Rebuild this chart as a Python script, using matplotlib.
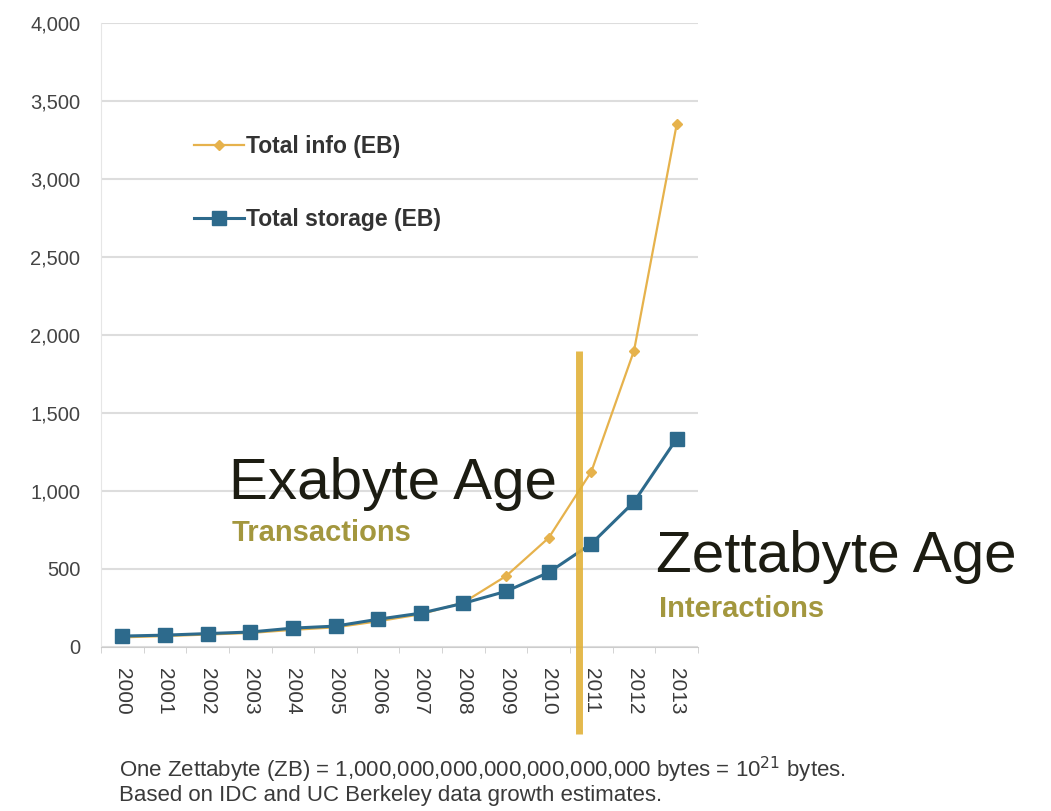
import matplotlib
matplotlib.use("Agg")
import matplotlib.pyplot as plt
from matplotlib.ticker import FuncFormatter, FixedLocator

years = ["2000", "2001", "2002", "2003", "2004", "2005", "2006",
         "2007", "2008", "2009", "2010", "2011", "2012", "2013"]
total_info = [62, 70, 80, 90, 110, 126, 165, 210, 285, 455, 700, 1125, 1900, 3350]
total_storage = [70, 76, 86, 96, 121, 134, 178, 217, 280, 357, 478, 662, 930, 1335]
yticks = [0, 500, 1000, 1500, 2000, 2500, 3000, 3500, 4000]

FW, FH = 1051, 811
plt.rcParams['font.family'] = ['Liberation Sans', 'DejaVu Sans']

fig = plt.figure(figsize=(FW / 100, FH / 100), dpi=100)
AX_L, AX_R, AX_T, AX_B = 101, 698, 23, 647
ax = fig.add_axes([AX_L / FW, (FH - AX_B) / FH, (AX_R - AX_L) / FW, (AX_B - AX_T) / FH])

x = list(range(len(years)))
gold = '#E6B24C'
blue = '#2D6A8C'
ax.plot(x, total_info, color=gold, lw=1.6, marker='D', ms=5, zorder=3,
        label='Total info (EB)')
ax.plot(x, total_storage, color=blue, lw=2.2, marker='s', ms=10, zorder=4,
        label='Total storage (EB)')

ax.set_xlim(-0.5, 13.5)
ax.set_ylim(0, 4000)
ax.set_yticks(yticks)
ax.yaxis.set_major_formatter(FuncFormatter(lambda v, p: f"{int(v):,}"))
ax.set_xticks(x)
ax.set_xticklabels(years, rotation=270)
ax.xaxis.set_minor_locator(FixedLocator([i - 0.5 for i in range(len(years) + 1)]))
ax.tick_params(axis='x', which='major', length=0, pad=15, labelsize=15,
               labelcolor='#3a3a3a')
ax.tick_params(axis='x', which='minor', length=4, color='#cccccc', direction='out')
ax.tick_params(axis='y', length=0, pad=15, labelsize=14.5, labelcolor='#444444')

for s in ['top', 'right']:
    ax.spines[s].set_visible(False)
ax.spines['bottom'].set_color('#cccccc')
ax.spines['left'].set_color('#e6e6e6')
ax.grid(axis='y', color='#dddddd', lw=1.5)
ax.set_axisbelow(True)

# vertical divider between the two ages
ax.plot([10.72, 10.72], [1900, -560], color='#E2B23A', lw=5, clip_on=False,
        zorder=6, solid_capstyle='butt', alpha=0.9)

leg = ax.legend(loc='center left',
                bbox_to_anchor=((194 - AX_L) / (AX_R - AX_L), (AX_B - 183) / (AX_B - AX_T)),
                frameon=False, fontsize=16.5, labelspacing=2.15, handlelength=2.2,
                handletextpad=0.05, borderaxespad=0, borderpad=0)
for t in leg.get_texts():
    t.set_color('#333333')
    t.set_fontweight('bold')


def ftext(px, py, s, **kw):
    fig.text(px / FW, (FH - py) / FH, s, va='baseline', ha='left', **kw)


ftext(229, 499, "Exabyte Age", fontsize=42, color='#1c1c12', zorder=7)
ftext(232, 541, "Transactions", fontsize=21, color='#A3973E', fontweight='bold')
ftext(656, 572, "Zettabyte Age", fontsize=42, color='#1c1c12')
ftext(659, 617, "Interactions", fontsize=21, color='#A3973E', fontweight='bold')
ftext(119, 777, "One Zettabyte (ZB) = 1,000,000,000,000,000,000,000 bytes = 10$^{21}$ bytes.",
      fontsize=16, color='#3a3a3a')
ftext(119, 801, "Based on IDC and UC Berkeley data growth estimates.",
      fontsize=16, color='#3a3a3a')

fig.savefig('out.png', dpi=100, facecolor='white')
